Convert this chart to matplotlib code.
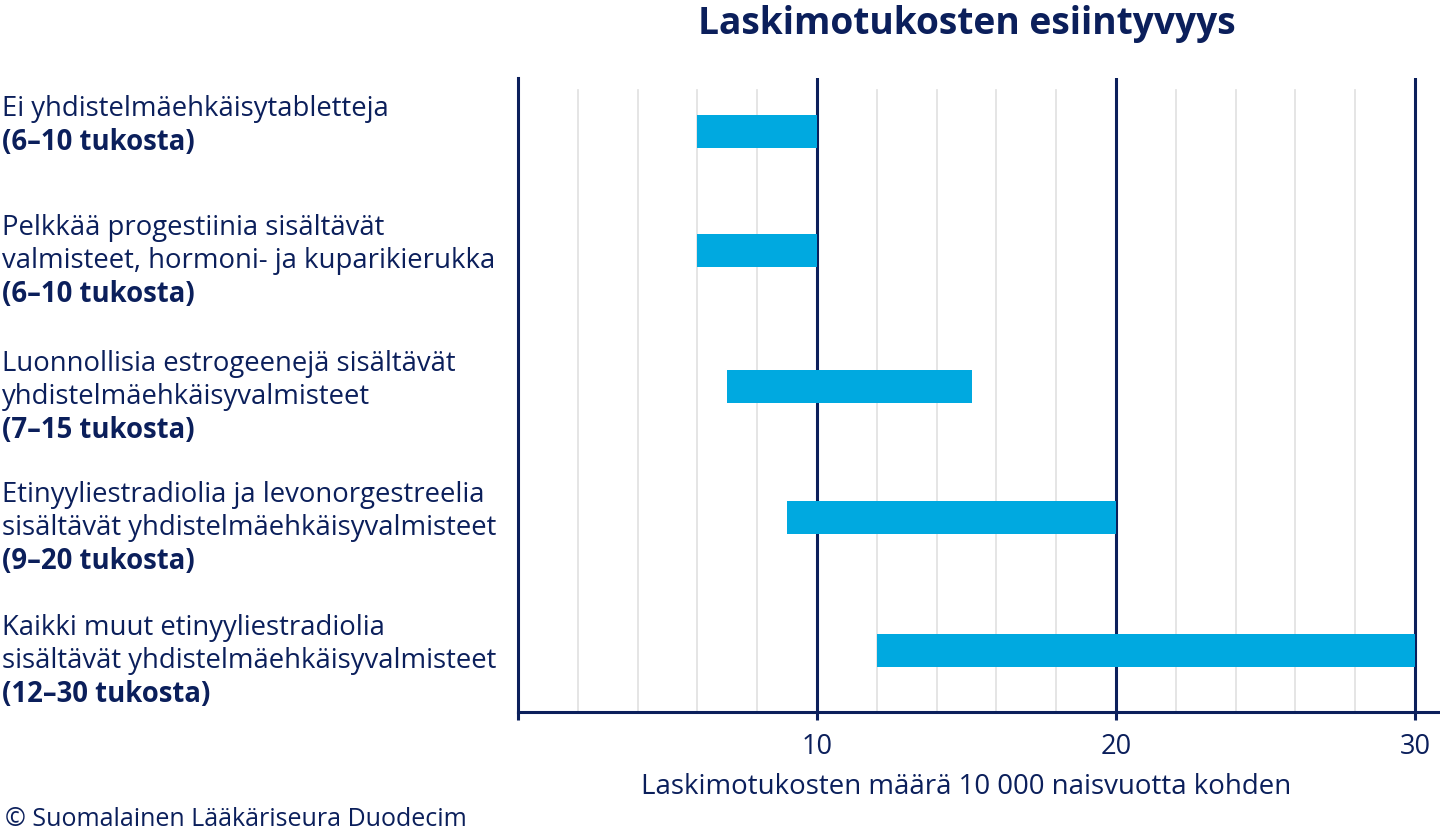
import matplotlib
matplotlib.use("Agg")
import matplotlib.pyplot as plt
from matplotlib.transforms import blended_transform_factory

plt.rcParams["font.family"] = ["Open Sans", "DejaVu Sans"]

# ── Data ─────────────────────────────────────────────────────────────────────
label_lines = [
    ["Ei yhdistelmäehkäisytabletteja"],
    ["Pelkkää progestiinia sisältävät", "valmisteet, hormoni- ja kuparikierukka"],
    ["Luonnollisia estrogeenejä sisältävät", "yhdistelmäehkäisyvalmisteet"],
    ["Etinyyliestradiolia ja levonorgestreelia", "sisältävät yhdistelmäehkäisyvalmisteet"],
    ["Kaikki muut etinyyliestradiolia", "sisältävät yhdistelmäehkäisyvalmisteet"],
]
range_labels = ["(6–10 tukosta)", "(6–10 tukosta)", "(7–15 tukosta)",
                "(9–20 tukosta)", "(12–30 tukosta)"]
bar_start = [6, 6, 7, 9, 12]
bar_end = [10, 10, 15.2, 20, 30]
major_ticks = [10, 20, 30]

# ── Layout (row centres in px from top of plot area) ────────────────────────
row_y = [53, 172, 308, 439, 572]
NAVY = "#0b1f5b"
BLUE = "#00a9e0"
W, H = 1440, 835

fig = plt.figure(figsize=(W / 100, H / 100), dpi=100)
ax = fig.add_axes([518 / W, (H - 712) / H, 920 / W, 634 / H])
ax.set_xlim(0, 30.77)
ax.set_ylim(634, 0)

# light minor grid every 2 units, starting a bit below the top
for x in range(2, 31, 2):
    if x % 10:
        ax.axvline(x, ymin=0, ymax=(634 - 12) / 634, color="#e3e3e3", lw=1.3, zorder=0)
for x in major_ticks:
    ax.axvline(x, color=NAVY, lw=2.2, zorder=1)

ax.barh(row_y, [e - s for s, e in zip(bar_start, bar_end)], left=bar_start,
        height=33, color=BLUE, zorder=2)

for side in ["top", "right"]:
    ax.spines[side].set_visible(False)
ax.spines["left"].set_color(NAVY)
ax.spines["left"].set_linewidth(2.2)
ax.spines["bottom"].set_color(NAVY)
ax.spines["bottom"].set_linewidth(2.2)

ax.set_yticks([])
ax.set_xticks([0] + major_ticks)
ax.set_xticklabels([""] + [str(t) for t in major_ticks])
ax.tick_params(axis="x", colors=NAVY, width=2.2, length=6, labelsize=19.5, pad=9)

ax.text(15, 634 + 75, "Laskimotukosten määrä 10 000 naisvuotta kohden",
        ha="center", va="center", fontsize=19.9, color=NAVY, clip_on=False)

ax.text(15, -54, "Laskimotukosten esiintyvyys", ha="center", va="center",
        fontsize=26.7, fontweight="bold", color=NAVY, clip_on=False)

# row labels on the left edge of the figure
tr = blended_transform_factory(fig.transFigure, ax.transData)
for lines, rng, yc in zip(label_lines, range_labels, row_y):
    y0 = yc - 22
    for i, line in enumerate(lines):
        ax.text(2 / W, y0 + 33.3 * i, line, transform=tr, ha="left", va="center",
                fontsize=19.8, color=NAVY, clip_on=False)
    ax.text(2 / W, y0 + 33.3 * len(lines), rng, transform=tr, ha="left", va="center",
            fontsize=19.8, fontweight="bold", color=NAVY, clip_on=False)

fig.text(5 / W, 1 - 819 / H, "© Suomalainen Lääkäriseura Duodecim",
         ha="left", va="center", fontsize=18, color=NAVY)

fig.savefig("out.png", dpi=100, facecolor="white")
